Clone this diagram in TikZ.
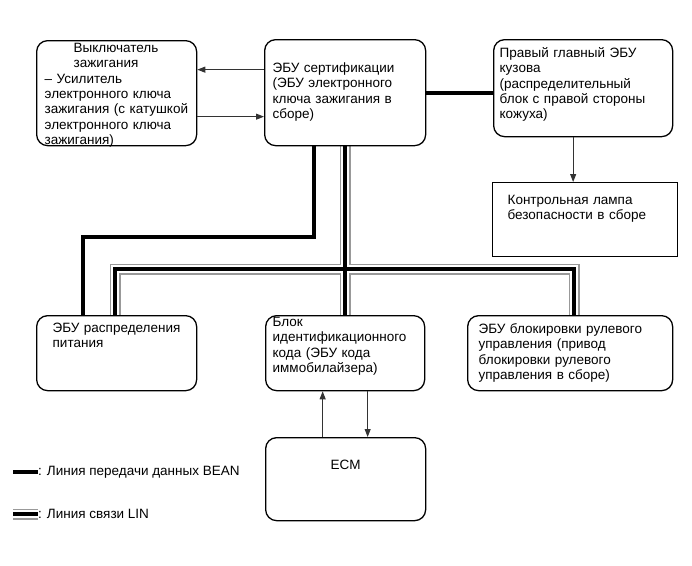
\documentclass[tikz,border=0pt]{standalone}
\usepackage{fontspec}
\setmainfont{Liberation Sans}
\usepackage{xcolor}
\usepackage{tikz}
\usetikzlibrary{arrows.meta,positioning,backgrounds}
\definecolor{lingray}{HTML}{999999}
\definecolor{sigline}{HTML}{333333}

\tikzset{
    ecubox/.style={draw,rounded corners=11pt,line width=1.3pt,anchor=north west,
                   inner sep=0pt,align=left,font=\fontsize{13.5}{15.3}\selectfont},
    lpad/.style={execute at begin node={\leftskip=#1\relax}},
    bean/.style={line width=4pt},
    lin/.style={preaction={draw=lingray,line width=11pt},draw=white,line width=8pt,
                postaction={draw=black,line width=4pt}},
    sig/.style={draw=sigline,line width=0.9pt,-{Triangle[length=8pt,width=6pt]}}
}

\begin{document}
\begin{tikzpicture}[x=1pt,y=-1pt]
    \useasboundingbox (0,0) rectangle (692,565);

    \node[ecubox,lpad=8pt,text width=160pt,text height=12pt,text depth=93pt] (ign) at (36,40) {
      \hspace*{29pt}Выключатель\\
      \hspace*{29pt}зажигания\\
      – Усилитель\\
      электронного ключа\\
      зажигания (с катушкой\\
      электронного ключа\\
      зажигания)
    };
    \node[ecubox,lpad=8pt,text width=161pt,text height=33pt,text depth=73pt] (cert) at (264,39) {
      ЭБУ сертификации\\
      (ЭБУ электронного\\
      ключа зажигания в\\
      сборе)
    };
    \node[ecubox,lpad=6pt,text width=179pt,text height=18pt,text depth=79pt] (rmain) at (493,39) {
      Правый главный ЭБУ\\
      кузова\\
      (распределительный\\
      блок с правой стороны\\
      кожуха)
    };
    \node[ecubox,sharp corners,lpad=15pt,text width=185pt,text height=22pt,text depth=52pt] (lamp) at (492,182) {
      Контрольная лампа\\
      безопасности в сборе
    };
    \node[ecubox,lpad=16pt,text width=160pt,text height=17pt,text depth=58pt] (pdist) at (36,315) {
      ЭБУ распределения\\
      питания
    };
    \node[ecubox,lpad=7pt,text width=159pt,text height=11pt,text depth=64pt] (idcode) at (265,315) {
      Блок\\
      идентификационного\\
      кода (ЭБУ кода\\
      иммобилайзера)
    };
    \node[ecubox,lpad=11pt,text width=205pt,text height=18pt,text depth=57pt] (slock) at (467,315) {
      ЭБУ блокировки рулевого\\
      управления (привод\\
      блокировки рулевого\\
      управления в сборе)
    };
    \node[ecubox,align=center,text width=160pt,text height=32pt,text depth=51pt] (ecm) at (265,437) {ECM};

    % legend
    \node[anchor=west,inner sep=0pt,font=\fontsize{13.5}{15}\selectfont] (beantxt) at (38,472) {: Линия передачи данных BEAN};
    \node[anchor=west,inner sep=0pt,font=\fontsize{13.5}{15}\selectfont] (lintxt) at (38,514) {: Линия связи LIN};
    \coordinate (beanend) at (13,472);
    \coordinate (linend) at (13,514);

    \coordinate (beank) at (83,237);
    \coordinate (linl) at (115,269);
    \coordinate (linr) at (574,269);

    \begin{scope}[on background layer]
      \draw[bean] (cert.east) -- (cert.east -| rmain.west);
      \draw[bean] ([xshift=-31pt]cert.south) |- (beank) -- (beank |- pdist.north);
      \draw[lin] (cert.south) -- (idcode.north)
                 (linl |- pdist.north) -- (linl) -- (linr) -- (linr |- slock.north);
      \draw[bean] (beanend) -- (beantxt.west);
      \draw[lin] (linend) -- (lintxt.west);
    \end{scope}

    \draw[sig] ([yshift=23pt]cert.west) -- ([yshift=23pt]cert.west -| ign.east);
    \draw[sig] ([yshift=-23.5pt]ign.east) -- ([yshift=-23.5pt]ign.east -| cert.west);
    \draw[sig] ([xshift=-10pt]rmain.south) -- ([xshift=-10pt]rmain.south |- lamp.north);
    \draw[sig] ([xshift=-23pt]ecm.north) -- ([xshift=-23pt]ecm.north |- idcode.south);
    \draw[sig] ([xshift=22pt]ecm.north |- idcode.south) -- ([xshift=22pt]ecm.north);
  \end{tikzpicture}
\end{document}
